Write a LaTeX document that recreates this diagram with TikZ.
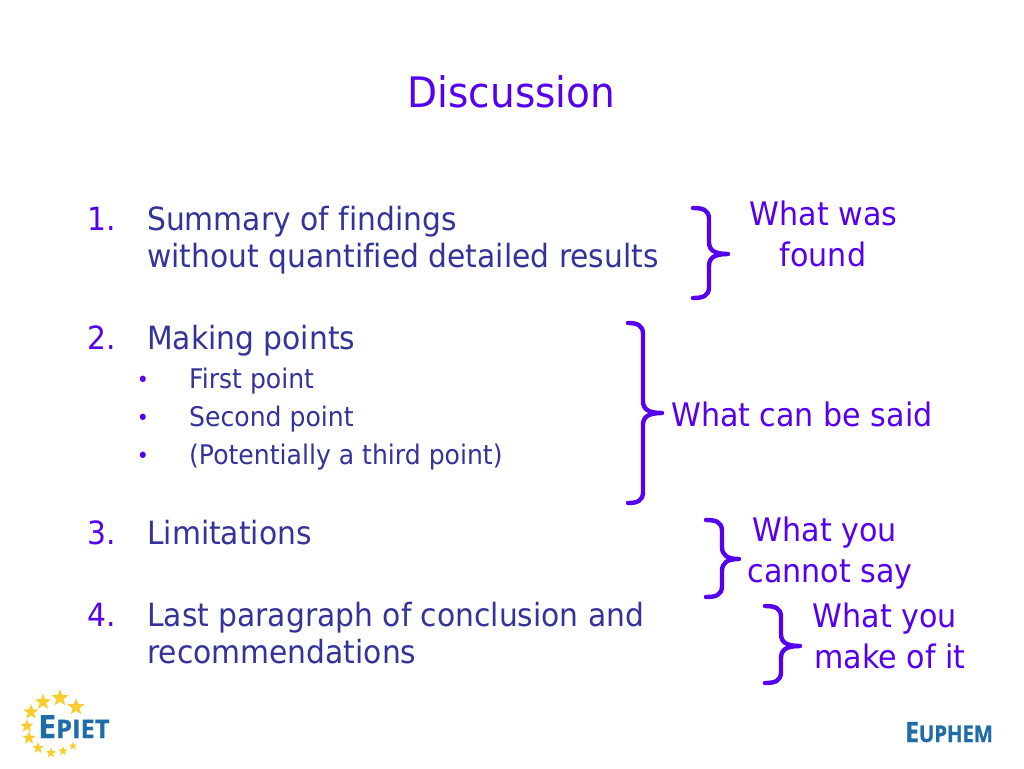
\documentclass[tikz,border=0pt]{standalone}
\usepackage{fontspec}
\setmainfont[FakeStretch=0.93,Ligatures=NoCommon]{DejaVu Sans}
\newfontfamily\logofont[FakeStretch=1.0,FakeBold=0.8]{Open Sans}
\newfontfamily\logofontb[FakeStretch=0.88,FakeBold=1.0]{Open Sans}
\usetikzlibrary{shapes.geometric}
\definecolor{bodyblue}{HTML}{333399}
\definecolor{accent}{HTML}{5500EE}
\definecolor{logoblue}{HTML}{1F6DA8}
\definecolor{logostar}{HTML}{F7CE2E}
\tikzset{
  x=1pt,y=-1pt,
  bodytext/.style={anchor=base west,inner sep=0,text=bodyblue,font=\fontsize{32}{36}\selectfont},
  subtext/.style={anchor=base west,inner sep=0,text=bodyblue,font=\fontsize{27}{30}\selectfont},
  numtext/.style={anchor=base west,inner sep=0,text=accent,font=\fontsize{32}{36}\selectfont},
  bullettext/.style={anchor=base,inner sep=0,text=accent,font=\fontsize{22}{26}\selectfont},
  sidetext/.style={anchor=base,inner sep=0,text=accent,font=\fontsize{32.4}{36}\selectfont},
  titletext/.style={anchor=base,inner sep=0,text=accent,font=\fontsize{42}{48}\selectfont},
  bracket/.style={draw=accent,line width=4.4pt,line cap=round,line join=round},
  logostarshape/.style={star,star points=5,star point ratio=2.4,fill=logostar,inner sep=0,minimum size=#1},
}
\newcommand{\bracepath}[5]{%
  \draw[bracket] (#1,#4) .. controls (#2-6,#4) and (#2,#4+2) .. (#2,#4+11)
    -- (#2,#5-12) .. controls (#2,#5-4) and (#2+5,#5) .. (#3,#5)
    .. controls (#2+5,#5) and (#2,#5+4) .. (#2,#5+12)
    -- (#2,\ybot-11) .. controls (#2,\ybot-2) and (#2-6,\ybot) .. (#1,\ybot);
}
\begin{document}
\begin{tikzpicture}
\useasboundingbox (0,0) rectangle (1024,768);
\fill[white] (0,0) rectangle (1024,768);
\node[titletext] (title) at (511.5,107) {Discussion};

\node[numtext] (n1) at (87,230) {1.};
\node[bodytext] (l1a) at (147,230) {Summary of findings};
\node[bodytext] (l1b) at (147,267) {without quantified detailed results};
\node[numtext] (n2) at (87,349) {2.};
\node[bodytext] (l2) at (147,349) {Making points};
\node[bullettext] (b1) at (143,387) {•};
\node[subtext] (s1) at (189,388) {First point};
\node[bullettext] (b2) at (143,425) {•};
\node[subtext] (s2) at (189,426) {Second point};
\node[bullettext] (b3) at (143,463) {•};
\node[subtext] (s3) at (189,464) {(Potentially a third point)};
\node[numtext] (n3) at (87,544) {3.};
\node[bodytext] (l3) at (147,544) {Limitations};
\node[numtext] (n4) at (87,626) {4.};
\node[bodytext] (l4a) at (147,626) {Last paragraph of conclusion and};
\node[bodytext] (l4b) at (147,663) {recommendations};

\node[sidetext] (w1a) at (823.5,225) {What was};
\node[sidetext] (w1b) at (823,266) {found};
\node[sidetext,anchor=base west] (w2) at (671,426) {What can be said};
\node[sidetext] (w3a) at (825,541) {What you};
\node[sidetext] (w3b) at (830,582) {cannot say};
\node[sidetext] (w4a) at (885,627) {What you};
\node[sidetext] (w4b) at (890,668) {make of it};

\def\ybot{298}\bracepath{693}{709}{728}{208}{254}
\def\ybot{503}\bracepath{628}{643}{662}{323}{413}
\def\ybot{597}\bracepath{706}{722}{739}{520}{559}
\def\ybot{683}\bracepath{765}{781}{800}{606}{646}

\foreach \px/\py/\ps in {60/698/18,43/702/17,76/707/18,31/712/16,27/726/14,29/738/14,38/748/12,51/753/11,63/751/10,73/746/9}{
  \node[logostarshape=\ps] at (\px,\py) {};
}
\node[anchor=base west,inner sep=0,text=logoblue,font=\logofont\bfseries] (epiet) at (38,738)
  {\fontsize{32}{32}\selectfont E\fontsize{25.5}{25.5}\selectfont PIET};
\node[anchor=base west,inner sep=0,text=logoblue,font=\logofontb\bfseries] (euphem) at (905,742)
  {\fontsize{28}{28}\selectfont E\fontsize{23}{23}\selectfont UPHEM};
\end{tikzpicture}
\end{document}
